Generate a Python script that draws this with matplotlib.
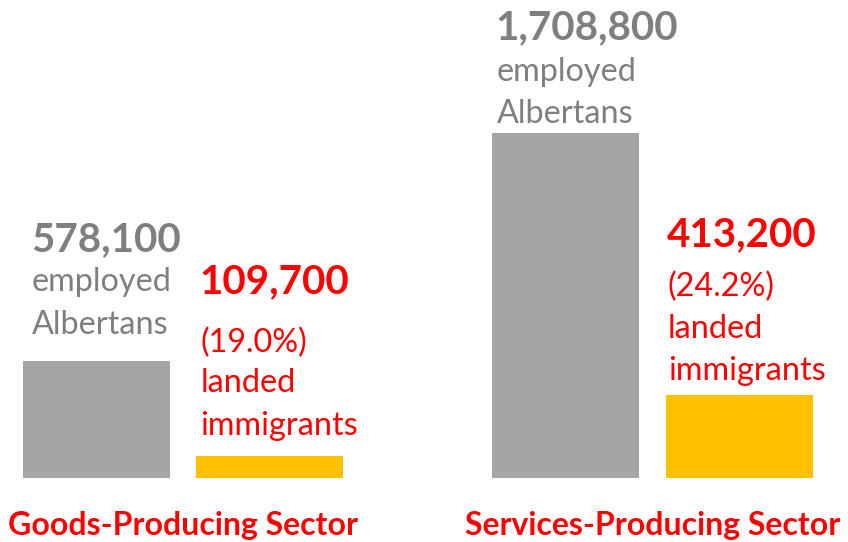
import numpy as np
import matplotlib.pyplot as plt

# Datos
sectors = ["Goods-Producing Sector", "Services-Producing Sector"]
employed = [578100, 1708800]
immigrants = [109700, 413200]
immigrant_pct = [19.0, 24.2]

# Colores
bar_gray = '#A5A5A5'
bar_gold = '#FFC000'
red = '#FF0000'
text_gray = '#7F7F7F'

plt.rcParams['font.family'] = ['Lato', 'DejaVu Sans']

fig = plt.figure(figsize=(8.48, 5.42), dpi=100)
ax = fig.add_axes([0, 0, 1, 1])
ax.axis('off')

x = np.arange(len(sectors))
off = 0.1848
w = 0.313
ax.bar(x - off, employed, w, color=bar_gray)
ax.bar(x + off, immigrants, w, color=bar_gold)
ax.set_xlim(-0.390, 1.416)
ax.set_ylim(-317000, 2367600)

num_size = 29
txt_size = 23.3

# offsets (en pixeles) desde el tope de cada barra
gray_offs = [(8, 122, 79, 36), (3, 105, 61, 19)]
red_offs = [(3, 174, 113, 73, 30), (1, 160, 108, 66, 24)]

for i in range(len(sectors)):
    left = x[i] - off - w / 2
    dx, dn, d1, d2 = gray_offs[i]
    ax.annotate(f"{employed[i]:,}", xy=(left, employed[i]), xytext=(dx, dn),
                textcoords='offset pixels', ha='left', va='center',
                fontsize=num_size, fontweight='bold', color=text_gray)
    ax.annotate("employed", xy=(left, employed[i]), xytext=(dx + 1, d1),
                textcoords='offset pixels', ha='left', va='center',
                fontsize=txt_size, color=text_gray)
    ax.annotate("Albertans", xy=(left, employed[i]), xytext=(dx + 1, d2),
                textcoords='offset pixels', ha='left', va='center',
                fontsize=txt_size, color=text_gray)

    left = x[i] + off - w / 2
    dx, dn, d1, d2, d3 = red_offs[i]
    ax.annotate(f"{immigrants[i]:,}", xy=(left, immigrants[i]), xytext=(dx, dn),
                textcoords='offset pixels', ha='left', va='center',
                fontsize=num_size, fontweight='bold', color=red)
    for s, dy in [(f"({immigrant_pct[i]:.1f}%)", d1), ("landed", d2),
                  ("immigrants", d3)]:
        ax.annotate(s, xy=(left, immigrants[i]), xytext=(dx + 1, dy),
                    textcoords='offset pixels', ha='left', va='center',
                    fontsize=txt_size, color=red)

    ax.annotate(sectors[i], xy=(x[i], 0), xytext=(0, -47),
                textcoords='offset pixels', ha='center', va='center',
                fontsize=23, fontweight='bold', color=red)

plt.savefig('out.png', dpi=100)
